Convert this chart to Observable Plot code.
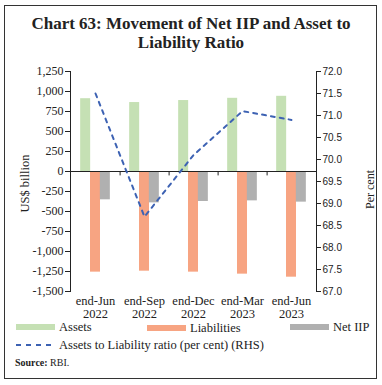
<!DOCTYPE html>
<html>
<head>
<meta charset="utf-8">
<script src="https://cdn.jsdelivr.net/npm/d3@7"></script>
<script src="https://cdn.jsdelivr.net/npm/@observablehq/plot@0.6"></script>
<style>
  html, body { margin: 0; padding: 0; background: #fff; }
  #wrap { position: relative; width: 382px; height: 385px; overflow: hidden; font-family: "Liberation Serif", serif; color: #222; }
  #border { position: absolute; left: 4px; top: 5px; width: 371px; height: 372px; border: 1.5px solid #333; }
  #title { position: absolute; left: 0; top: 14px; width: 382px; text-align: center; font-weight: bold; font-size: 17px; line-height: 19px; color: #222; }
  #chart { position: absolute; left: 0; top: 55px; }
  .sw { position: absolute; height: 6px; }
  .lt { position: absolute; font-size: 12.5px; line-height: 14px; white-space: nowrap; }
  #src { position: absolute; left: 15px; top: 357px; font-size: 10px; }
</style>
</head>
<body>
<div id="wrap">
  <div id="border"></div>
  <div id="title">Chart 63: Movement of Net IIP and Asset to<br>Liability Ratio</div>
  <div id="chart"></div>
  <div class="sw" style="left:16px;top:324px;width:39px;background:#c5e0b4"></div>
  <div class="lt" style="left:59px;top:320px">Assets</div>
  <div class="sw" style="left:147px;top:325px;width:39px;background:#f7a482"></div>
  <div class="lt" style="left:190px;top:321px">Liabilities</div>
  <div class="sw" style="left:290px;top:324px;width:39px;background:#b0b0b0"></div>
  <div class="lt" style="left:333px;top:320px">Net IIP</div>
  <svg style="position:absolute;left:14px;top:342px" width="44" height="6"><line x1="2" y1="3" x2="42" y2="3" stroke="#3d62b3" stroke-width="2" stroke-dasharray="5,5"/></svg>
  <div class="lt" style="left:59px;top:338px">Assets to Liability ratio (per cent) (RHS)</div>
  <div id="src"><b>Source:</b> RBI.</div>
</div>
<script>
const categories = ["end-Jun 2022", "end-Sep 2022", "end-Dec 2022", "end-Mar 2023", "end-Jun 2023"];
const assets = [910, 862, 887, 915, 940];
const liabilities = [-1258, -1246, -1258, -1283, -1321];
const netIIP = [-354, -392, -375, -367, -383];
const ratio = [71.5, 68.7, 70.1, 71.1, 70.9];
const leftTicks = [-1500, -1250, -1000, -750, -500, -250, 0, 250, 500, 750, 1000, 1250];
const rightTicks = [67.0, 67.5, 68.0, 68.5, 69.0, 69.5, 70.0, 70.5, 71.0, 71.5, 72.0];

const leftDomain = [-1500, 1250];
const rightDomain = [67, 72];
const toLeft = r => leftDomain[0] + (r - rightDomain[0]) * (leftDomain[1] - leftDomain[0]) / (rightDomain[1] - rightDomain[0]);
const toRight = v => rightDomain[0] + (v - leftDomain[0]) * (rightDomain[1] - rightDomain[0]) / (leftDomain[1] - leftDomain[0]);

const rows = categories.map((c, i) => ({cat: c, assets: assets[i], liabilities: liabilities[i], net: netIIP[i], ratio: ratio[i]}));

const W = 382, ML = 70, MR = 66;
const step = (W - ML - MR) / categories.length;
const bw = step * 0.2;
const fmt = d => (d < 0 ? "-" : "") + d3.format(",")(Math.abs(d));

const chart = Plot.plot({
  width: W,
  height: 270,
  marginTop: 16,
  marginBottom: 34,
  marginLeft: ML,
  marginRight: MR,
  style: {fontFamily: "Liberation Serif", fontSize: "12px", color: "#222", background: "transparent", overflow: "visible"},
  x: {domain: categories, paddingInner: 0.8, paddingOuter: 0.4, axis: null},
  y: {domain: leftDomain, axis: null},
  marks: [
    Plot.barY(rows, {x: "cat", y: "assets", fill: "#c5e0b4", dx: -bw, inset: 0}),
    Plot.barY(rows, {x: "cat", y: "liabilities", fill: "#f7a482", inset: 0}),
    Plot.barY(rows, {x: "cat", y: "net", fill: "#b0b0b0", dx: bw, inset: 0}),
    Plot.ruleY([0], {stroke: "#222", strokeWidth: 1.2}),
    Plot.ruleX(categories.slice(0, 4), {x: d => d, dx: step / 2, y1: 0, y2: -55, stroke: "#222"}),
    Plot.frame({anchor: "left", stroke: "#222"}),
    Plot.frame({anchor: "right", stroke: "#222"}),
    Plot.axisY({anchor: "left", ticks: leftTicks, tickFormat: fmt, tickSize: 5, tickPadding: 2, label: null, fontSize: 12}),
    Plot.axisY({anchor: "right", ticks: rightTicks.map(toLeft), tickFormat: d => toRight(d).toFixed(1), tickSize: 4, tickPadding: 2, label: null, fontFamily: "Liberation Sans", fontSize: 10}),
    Plot.axisX({anchor: "bottom", tickSize: 0, tickPadding: 4, label: null, tickFormat: d => d.replace(" ", "\n"), fontSize: 12.5, lineHeight: 1.05}),
    Plot.line(rows, {x: "cat", y: d => toLeft(d.ratio), stroke: "#3d62b3", strokeWidth: 2, strokeDasharray: "4,5"}),
    Plot.text(["US$ billion"], {text: d => d, frameAnchor: "left", textAnchor: "middle", dx: -46, dy: 2, rotate: -90, fontSize: 12.5}),
    Plot.text(["Per cent"], {text: d => d, frameAnchor: "right", textAnchor: "middle", dx: 54, dy: 8, rotate: -90, fontSize: 12})
  ]
});
document.getElementById("chart").appendChild(chart);
</script>
</body>
</html>
